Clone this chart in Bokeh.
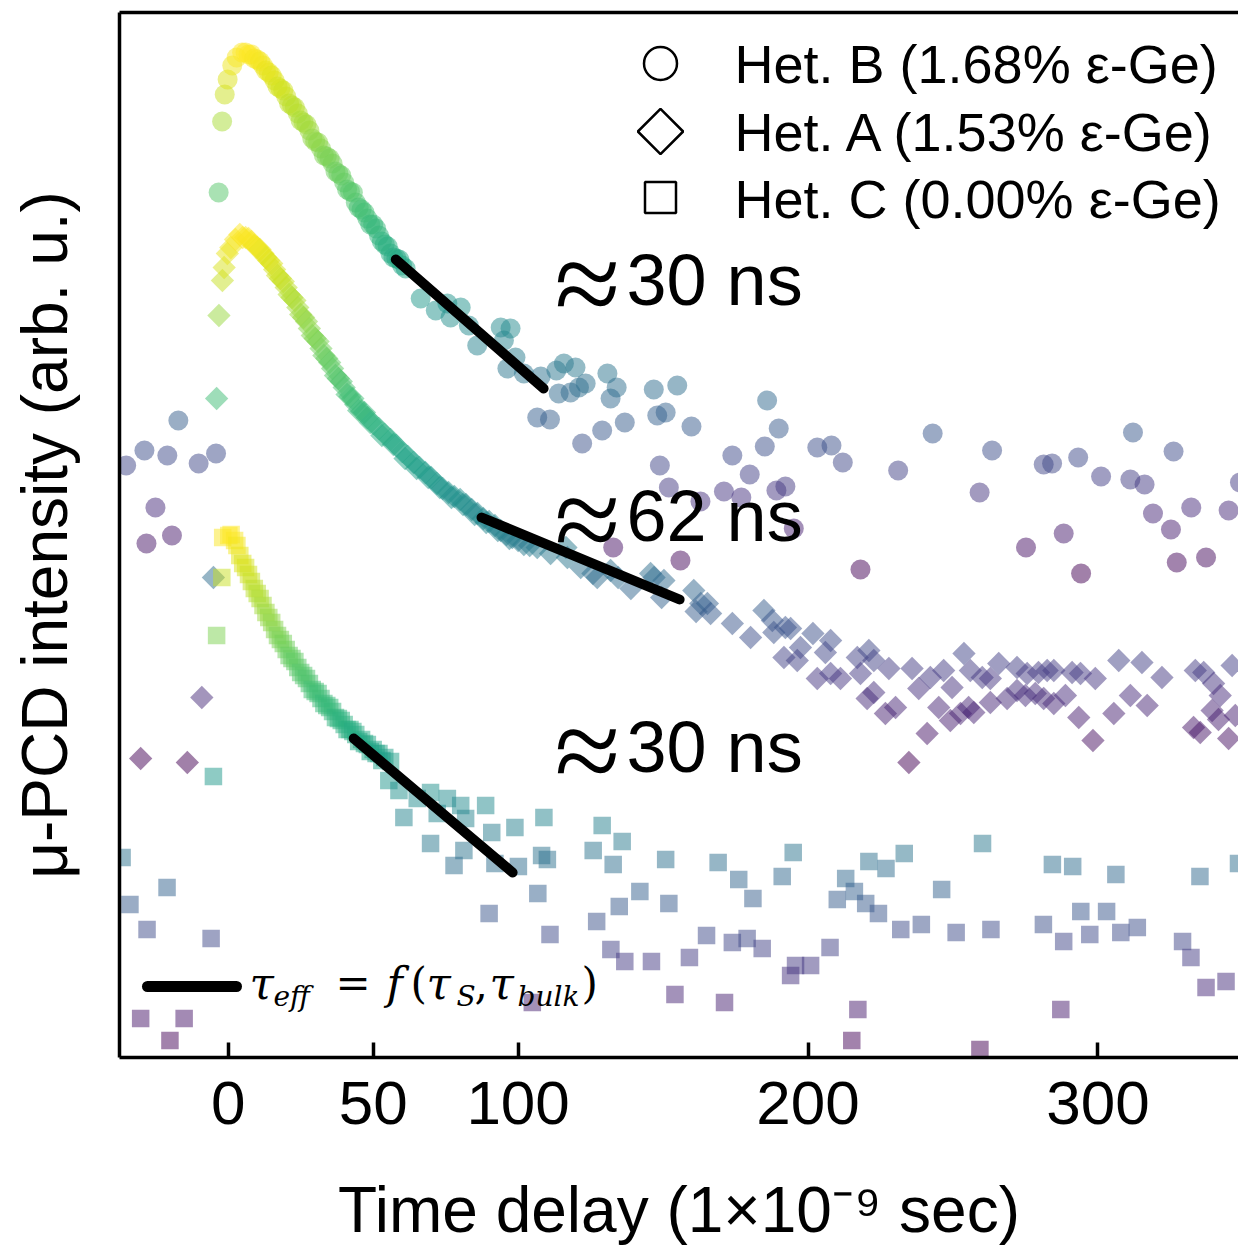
import numpy as np
from bokeh.plotting import figure
from bokeh.models import Range1d, LinearAxis, FixedTicker, ColumnDataSource
from bokeh.transform import linear_cmap
from bokeh.palettes import Viridis256
from bokeh.core.properties import value
from bokeh.embed import file_html
from bokeh.resources import INLINE

# ---------------- data (time in ns, intensity in arb. u.) ----------------
x_ticks = [0, 50, 100, 200, 300]
series_names = ["Het. B (1.68% ε-Ge)", "Het. A (1.53% ε-Ge)", "Het. C (0.00% ε-Ge)"]
tau_texts = ["30 ns", "62 ns", "30 ns"]

# Het. B (circles)
het_b_points = [(-35.2, 59.2), (-28.9, 60.7), (-28.2, 51.4), (-25.1, 55.0), (-21.0, 60.2),
                (-19.4, 52.2), (-17.2, 63.7), (-10.2, 59.4), (-4.2, 60.4),
                (-3.3, 86.5), (-2.1, 93.6), (-1.2, 96.3), (-0.2, 97.8), (1.4, 99.2),
                (2.9, 100.0), (4.8, 100.5)]
het_b_decay_t = [6, 8, 10, 12, 14, 16, 18, 20, 22, 24, 26, 28, 30, 32, 34, 36, 38, 40,
                 42, 44, 46, 48, 50, 52, 54, 56, 58, 60]
het_b_decay_i = [100.5, 100.3, 99.8, 99.2, 98.5, 97.7, 96.9, 96.1, 95.2, 94.4, 93.5, 92.7,
                 91.6, 90.9, 90.1, 89.4, 88.4, 87.5, 86.6, 85.5, 84.8, 83.9, 83.3, 82.2,
                 81.3, 80.4, 79.9, 79.2]
het_b_decay2_t = [7, 9, 11, 13, 15, 17, 19, 21, 23, 25, 27, 29, 31, 33, 35, 37, 39, 41, 43,
                  45, 47, 49, 51, 53, 55, 57, 59]
het_b_decay2_i = [100.3, 99.9, 99.6, 98.7, 98.2, 97.1, 96.7, 95.4, 95.0, 93.7, 93.3, 91.9,
                  91.5, 90.2, 89.9, 88.6, 88.2, 86.8, 86.5, 85.0, 84.5, 83.3, 82.9, 81.6,
                  81.1, 80.0, 79.8]
het_b_tail = [(61.2, 78.9), (66.4, 75.9), (71.6, 74.7), (75.6, 75.4), (76.7, 74.0), (80.2, 75.0),
              (83.0, 73.2), (85.9, 71.2), (94.0, 73.0), (95.1, 71.7), (96.3, 68.9), (97.4, 72.9),
              (99.1, 70.0), (102.0, 68.4), (106.6, 64.0), (107.8, 68.1), (111.0, 63.8), (113.2, 68.7),
              (114.0, 66.4), (115.8, 69.4), (118.1, 66.5), (119.8, 69.0), (121.0, 67.0), (122.1, 61.4),
              (123.3, 67.4), (129.0, 62.7), (130.8, 68.4), (131.9, 65.9), (132.8, 51.0), (134.0, 67.0),
              (136.8, 63.5), (146.8, 66.8), (148.0, 64.2), (148.9, 59.2), (150.9, 64.5), (152.0, 57.0),
              (154.9, 67.2), (156.0, 49.7), (159.8, 63.1), (162.9, 55.6), (171.0, 56.6), (173.9, 60.2),
              (177.0, 56.0), (179.9, 58.3), (185.1, 61.1), (185.9, 65.7), (189.1, 56.7), (189.9, 62.9),
              (192.2, 57.1), (195.1, 52.9), (203.2, 61.0), (208.1, 61.2), (212.0, 59.5), (218.1, 48.8),
              (231.1, 58.7), (243.0, 62.4), (259.2, 56.5), (263.5, 60.7), (275.2, 51.0), (281.3, 59.3),
              (284.2, 59.4), (288.2, 52.4), (293.2, 60.0), (294.2, 48.4), (301.1, 58.1), (311.2, 57.8),
              (312.1, 62.5), (316.1, 57.3), (319.0, 54.4), (325.2, 52.8), (326.1, 60.6), (327.2, 49.5),
              (332.2, 55.0), (337.3, 50.0), (345.1, 54.7), (349.0, 57.5)]

# Het. A (diamonds)
het_a_points = [(-30.2, 29.9), (-14.1, 29.5), (-9.1, 36.0), (-5.1, 48.0),
                (-4.0, 65.9), (-3.2, 74.2), (-2.0, 77.7), (-1.4, 79.0), (-0.3, 80.4),
                (0.9, 81.0), (2.5, 81.8)]
het_a_decay_t = [4, 6, 8, 10, 12, 14, 16, 18, 20, 22, 24, 26, 28, 30, 32, 34, 36, 38, 40, 42,
                 44, 46, 48, 50, 52, 54, 56, 58, 60, 62, 64, 66, 68, 70, 72, 74, 76, 78, 80,
                 82, 84, 86, 88, 90, 92, 94, 96, 98, 100, 102, 104]
het_a_decay_i = [82.3, 82.0, 81.6, 81.0, 80.4, 79.7, 78.8, 77.9, 77.0, 76.0, 75.0, 74.0, 72.9,
                 71.9, 70.9, 69.9, 68.9, 67.9, 67.0, 66.1, 65.3, 64.6, 64.0, 63.4, 62.9, 62.3,
                 61.8, 61.2, 60.6, 60.1, 59.5, 59.0, 58.5, 58.0, 57.4, 56.9, 56.5, 56.1, 55.8,
                 55.3, 54.8, 54.4, 53.9, 53.6, 53.2, 52.7, 52.3, 52.0, 51.7, 51.3, 51.2]
het_a_decay2_t = [5, 7, 9, 11, 13, 15, 17, 19, 21, 23, 25, 27, 29, 31, 33, 35, 37, 39, 41, 43,
                  45, 47, 49, 53, 57, 61, 65, 69, 73, 77, 81, 85, 89, 93, 97]
het_a_decay2_i = [82.0, 81.9, 81.2, 80.8, 80.0, 79.4, 78.2, 77.6, 76.3, 75.7, 74.3, 73.6, 72.2,
                  71.6, 70.2, 69.5, 68.2, 67.6, 66.3, 65.9, 64.7, 64.5, 63.5, 62.2, 61.3,
                  59.9, 58.9, 58.0, 57.0, 56.0, 55.3, 54.3, 53.5, 52.7, 51.9]
het_a_tail = [(106.6, 51.0), (111.2, 50.4), (116.5, 51.0), (117.0, 50.0), (121.6, 49.0), (125.8, 48.4),
              (127.3, 48.0), (131.9, 48.7), (134.5, 48.0), (138.9, 46.9), (145.7, 48.4), (146.9, 48.0),
              (149.5, 46.0), (150.3, 47.7), (160.6, 46.7), (161.4, 44.6), (163.0, 45.4), (165.3, 45.4),
              (166.4, 44.4), (173.9, 43.4), (180.2, 42.0), (184.8, 44.7), (187.7, 43.7), (188.2, 42.5),
              (192.2, 43.0), (194.0, 42.9), (197.4, 41.0), (191.7, 40.0), (196.3, 39.7), (201.7, 42.4),
              (207.8, 41.7), (206.0, 40.5), (203.2, 37.9), (207.8, 38.4), (211.2, 37.9), (217.0, 40.0),
              (221.0, 40.7), (222.7, 39.7), (227.9, 38.9), (218.1, 38.4), (220.4, 35.9), (222.7, 36.5),
              (226.7, 34.4), (230.2, 35.0), (235.9, 38.9), (238.2, 36.9), (241.1, 32.4), (234.8, 29.5),
              (242.2, 38.0), (246.8, 38.7), (249.7, 37.0), (245.1, 35.0), (249.1, 33.7), (252.6, 34.4),
              (255.4, 35.0), (257.2, 34.5), (253.8, 40.4), (256.0, 38.7), (260.1, 38.0), (262.9, 37.9),
              (265.8, 39.4), (262.9, 35.5), (268.7, 35.9), (272.1, 39.0), (272.1, 36.7), (275.6, 38.4),
              (279.5, 38.5), (282.5, 38.7), (284.8, 38.7), (291.1, 38.5), (294.0, 38.4), (299.1, 37.9),
              (307.2, 39.7), (315.2, 39.5), (322.1, 38.0), (333.6, 38.7), (336.5, 38.5), (346.3, 39.2),
              (275.0, 36.2), (278.4, 36.4), (281.3, 35.9), (284.8, 35.4), (288.8, 36.2), (293.4, 34.0),
              (305.5, 34.4), (311.2, 36.2), (317.0, 35.2), (298.3, 31.7), (339.9, 37.4), (342.2, 36.2),
              (339.4, 34.7), (333.0, 33.0), (335.3, 32.5), (341.6, 33.8), (345.1, 31.9), (347.4, 34.2)]

# Het. C (squares)
het_c_points = [(-36.6, 20.0), (-33.9, 15.3), (-30.2, 3.9), (-28.0, 12.8), (-21.1, 17.0),
                (-20.1, 1.7), (-15.2, 3.9), (-5.9, 11.9), (-5.1, 28.1), (-4.0, 42.2),
                (-2.2, 48.0), (-1.9, 52.0), (0.2, 52.2), (2.2, 51.7)]
het_c_decay_t = [4, 6, 8, 10, 12, 14, 16, 18, 20, 22, 24, 26, 28, 30, 32, 34, 36, 38, 40, 42,
                 44, 46, 48, 50, 52, 54, 56]
het_c_decay_i = [50.2, 49.0, 47.6, 46.4, 45.2, 44.0, 42.8, 41.8, 40.8, 39.9, 39.0, 38.2, 37.4,
                 36.6, 35.9, 35.2, 34.6, 33.9, 33.3, 32.8, 32.3, 31.8, 31.3, 30.8, 30.4, 30.0, 29.6]
het_c_decay2_t = [1, 3, 5, 7, 9, 11, 13, 15, 17, 19, 21, 23, 25, 27, 29, 31, 33, 35, 37, 39,
                  41, 43, 45, 47, 49, 51, 53]
het_c_decay2_i = [52.3, 51.2, 49.4, 48.3, 46.9, 45.9, 44.5, 43.5, 42.2, 41.4, 40.2, 39.6, 38.5,
                  37.9, 36.8, 36.4, 35.4, 35.0, 34.0, 33.7, 32.8, 32.6, 31.6, 31.4, 30.6, 30.4,
                  29.7]
het_c_tail = [(55.4, 27.7), (58.9, 26.7), (60.6, 24.0), (65.2, 25.9), (69.8, 26.5), (72.1, 24.4),
              (75.6, 25.9), (80.2, 25.2), (81.9, 23.9), (88.8, 25.2), (69.8, 21.4), (81.3, 20.7),
              (77.9, 19.2), (90.9, 22.5), (92.0, 19.4), (98.9, 23.0), (100.1, 19.1), (108.9, 24.0),
              (108.1, 20.2), (110.1, 19.8), (106.8, 16.4), (90.0, 14.4), (111.0, 12.3), (129.0, 23.2),
              (135.9, 21.6), (125.9, 20.7), (132.8, 19.3), (150.9, 19.8), (169.0, 19.5), (176.1, 17.8),
              (194.9, 20.5), (191.1, 18.1), (181.0, 15.9), (142.0, 16.6), (152.0, 15.4), (134.9, 15.1),
              (127.1, 13.6), (165.0, 12.2), (173.9, 11.5), (179.0, 11.9), (184.2, 10.9), (132.0, 10.8),
              (136.8, 9.6), (146.0, 9.6), (159.1, 10.0), (195.7, 9.2), (200.9, 9.2), (194.0, 8.2),
              (207.6, 11.0), (154.1, 6.3), (171.2, 5.5), (104.9, 5.5), (221.0, 19.6), (213.0, 17.9),
              (233.2, 20.4), (226.9, 18.9), (216.0, 16.6), (210.1, 15.8), (219.9, 15.4), (224.3, 14.4),
              (246.1, 16.8), (260.2, 21.4), (284.3, 19.3), (291.3, 19.1), (306.2, 18.3), (335.2, 18.1),
              (348.5, 19.4), (294.1, 14.6), (303.0, 14.6), (281.2, 13.3), (288.2, 11.6), (297.2, 12.3),
              (307.9, 12.5), (313.6, 13.0), (329.2, 11.6), (332.1, 10.0), (337.3, 7.0), (344.2, 7.6),
              (287.2, 4.8), (251.1, 12.5), (263.1, 12.8), (239.1, 13.3), (232.0, 12.8), (217.2, 4.8),
              (215.1, 1.7), (259.3, 0.8)]

# linear fits (tau_eff) : start / end time and intensity
fit_t = [[57.8, 108.8], [87.4, 155.7], [43.3, 98.1]]
fit_i = [[79.8, 66.9], [54.0, 45.8], [31.9, 18.5]]

# ---------------- figure ----------------
FONT = "Liberation Sans"
X0, X1, Y0, Y1 = -37.5, 348.5, 0.0, 104.5

p = figure(width=1238, height=1249, output_backend="svg", toolbar_location=None,
           x_range=Range1d(X0, X1), y_range=Range1d(Y0, Y1),
           x_axis_location=None, y_axis_location=None,
           min_border_left=119, min_border_right=0, min_border_top=12, min_border_bottom=192)
p.outline_line_color = None
p.xgrid.visible = False
p.ygrid.visible = False
p.background_fill_color = "white"
p.border_fill_color = "white"

xaxis = LinearAxis(ticker=FixedTicker(ticks=x_ticks),
                   axis_label="Time delay (1×10⁻⁹ sec)")
yaxis = LinearAxis(ticker=FixedTicker(ticks=[]), axis_label="μ-PCD intensity (arb. u.)")
top = LinearAxis(ticker=FixedTicker(ticks=[]))
for ax in (xaxis, yaxis, top):
    ax.axis_line_width = 3.5
    ax.axis_line_color = "black"
    ax.major_tick_in = 15
    ax.major_tick_out = 0
    ax.major_tick_line_width = 3.5
    ax.major_tick_line_color = "black"
    ax.minor_tick_line_color = None
    ax.major_label_text_font = FONT
    ax.major_label_text_font_size = "62px"
    ax.major_label_text_color = "black"
    ax.major_label_standoff = 24
    ax.axis_label_text_font = FONT
    ax.axis_label_text_font_size = "64px"
    ax.axis_label_text_font_style = "normal"
    ax.axis_label_text_color = "black"
xaxis.axis_label_standoff = 47
yaxis.major_label_standoff = 0
yaxis.axis_label_standoff = 39
top.major_label_text_font_size = "0px"
top.major_label_standoff = 0
p.add_layout(xaxis, "below")
p.add_layout(yaxis, "left")
p.add_layout(top, "above")


def make_source(parts):
    t, i = [], []
    for xs, ys in parts:
        t += list(xs)
        i += list(ys)
    return ColumnDataSource(dict(t=t, i=i)), min(i), max(i)


def unzip(pairs):
    return [a for a, b in pairs], [b for a, b in pairs]


specs = [
    ([unzip(het_b_points), (het_b_decay_t, het_b_decay_i), (het_b_decay2_t, het_b_decay2_i),
      unzip(het_b_tail)], "circle", 20, 0.0),
    ([unzip(het_a_points), (het_a_decay_t, het_a_decay_i), (het_a_decay2_t, het_a_decay2_i),
      unzip(het_a_tail)], "square", 16.5, np.pi / 4),
    ([unzip(het_c_points), (het_c_decay_t, het_c_decay_i), (het_c_decay2_t, het_c_decay2_i),
      unzip(het_c_tail)], "square", 17.5, 0.0),
]
for parts, marker, size, ang in specs:
    src, lo, hi = make_source(parts)
    p.scatter("t", "i", source=src, marker=marker, size=size, angle=ang,
              fill_color=linear_cmap("i", Viridis256, lo, hi), fill_alpha=0.5,
              line_color=None)

p.multi_line(fit_t, fit_i, line_color="black", line_width=10, line_cap="round")


# helpers for placing annotations by screen position
def sx(px):
    return X0 + (px - 119) * (X1 - X0) / (1238 - 119)


def sy(py):
    return Y0 + (1057 - py) * (Y1 - Y0) / (1057 - 12)


def base(py, fs):
    # baseline position compensated for the svg text placement
    return sy(py - 0.35 * fs)


# tau annotations
tau_base = [305, 541, 772]
p.text(x=[sx(554)] * 3, y=[base(b + 20, 120) for b in tau_base], text=["≈"] * 3,
       text_font=value("Liberation Serif"), text_font_size=value("120px"),
       text_color="black", text_baseline="alphabetic", text_align="left")
p.text(x=[sx(626)] * 3, y=[base(b, 72) for b in tau_base], text=tau_texts,
       text_font=value(FONT), text_font_size=value("72px"),
       text_color="black", text_baseline="alphabetic", text_align="left")

# legend (top right)
leg_py = [63, 131, 197]
p.scatter(x=[sx(660)], y=[sy(leg_py[0])], marker="circle", size=33,
          fill_color="white", line_color="black", line_width=2.5)
p.scatter(x=[sx(660)], y=[sy(leg_py[1])], marker="square", angle=np.pi / 4, size=32,
          fill_color="white", line_color="black", line_width=2.5)
p.scatter(x=[sx(660)], y=[sy(leg_py[2])], marker="square", size=31,
          fill_color="white", line_color="black", line_width=2.5)
p.text(x=[sx(734)] * 3, y=[base(b, 54) for b in [82, 150, 217]], text=series_names,
       text_font=value(FONT), text_font_size=value("54px"), text_color="black",
       text_baseline="alphabetic", text_align="left")

# lower-left legend: line + formula
p.line(x=[sx(147), sx(236)], y=[sy(986), sy(986)], line_color="black", line_width=11,
       line_cap="round")
SERIF = "DejaVu Serif"
p.text(x=[sx(249), sx(386), sx(426), sx(489)], y=[base(998, 44)] * 4,
       text=["τ", "f", "τ", "τ"], text_font=value(SERIF), text_font_style="italic",
       text_font_size=value("44px"), text_color="black", text_baseline="alphabetic")
p.text(x=[sx(273), sx(456), sx(517)], y=[base(1006, 28)] * 3,
       text=["eff", "S", "bulk"], text_font=value(SERIF), text_font_style="italic",
       text_font_size=value("28px"), text_color="black", text_baseline="alphabetic")
p.text(x=[sx(335), sx(410), sx(474), sx(581)], y=[base(998, 42)] * 4,
       text=["=", "(", ",", ")"], text_font=value("DejaVu Serif"),
       text_font_size=value("42px"), text_color="black", text_baseline="alphabetic")

open("out.html", "w").write(file_html(p, INLINE))
